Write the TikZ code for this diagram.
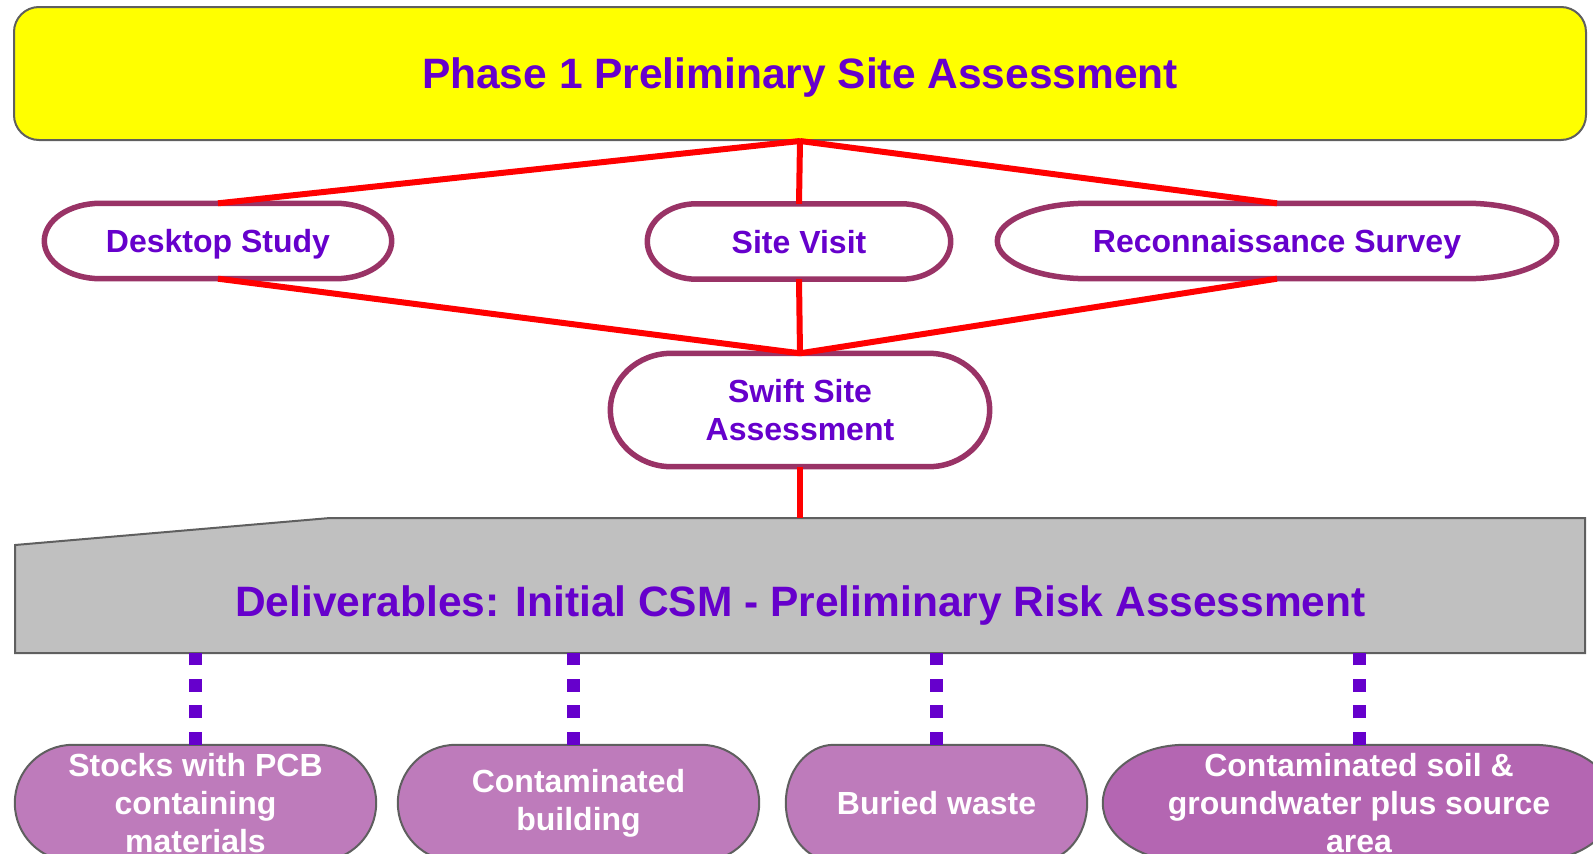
\documentclass[tikz,border=0pt]{standalone}
\usepackage{fontspec}
\setmainfont{Liberation Sans}
\usetikzlibrary{positioning}
\usetikzlibrary{backgrounds}
\usetikzlibrary{calc}
\definecolor{txtpurple}{HTML}{6600CC}
\definecolor{rimpurple}{HTML}{993366}
\definecolor{boxrim}{HTML}{5F5F5F}
\definecolor{phaseyellow}{HTML}{FFFF00}
\definecolor{delivgray}{HTML}{C0C0C0}
\definecolor{itemfill}{HTML}{BE7BBB}
\definecolor{itemdark}{HTML}{B466B2}
\tikzset{x=1pt,y=-1pt,
    phasebox/.style={
        rectangle, rounded corners=25pt,
        draw=boxrim, line width=2pt, fill=phaseyellow,
        minimum width=1572pt, minimum height=133pt, text depth=0pt,
        font=\fontsize{42.5}{50}\selectfont\bfseries, text=txtpurple},
    task/.style={
        inner sep=0pt, align=center,
        minimum height=75pt, text depth=0pt,
        font=\fontsize{32}{38}\selectfont\bfseries, text=txtpurple},
    item/.style={
        inner sep=0pt, align=center,
        minimum height=116pt,
        font=\fontsize{32}{38}\selectfont\bfseries, text=white},
    taskrim/.style={draw=rimpurple, line width=5.5pt, fill=white},
    itemrim/.style={draw=boxrim, line width=2pt, fill=#1},
    dotlink/.style={draw=txtpurple, line width=13pt,
        dash pattern=on 13pt off 13.5pt},
    every edge/.style={
        draw, red, line width=6pt}}
% pill outline round a node: node, x radius, look
\newcommand\pillpath[3]{%
    \path[#3] let \p1=(#1.north), \p2=(#1.south), \n1={(\y1-\y2)/2} in
        ([xshift=#2]#1.north west) -- ([xshift=-#2]#1.north east)
        arc[start angle=90, end angle=-90, x radius=#2, y radius=\n1]
        -- ([xshift=#2]#1.south west)
        arc[start angle=270, end angle=90, x radius=#2, y radius=\n1]
        -- cycle;}

\begin{document}
\begin{tikzpicture}
    \useasboundingbox (0,0) rectangle (1593,854);
    \clip (0,0) rectangle (1593,854);

    \node[phasebox] (phase) at (800,73.5) {Phase 1 Preliminary Site Assessment};

    \node[task,minimum width=347pt] (desk) at (218,241) {Desktop Study};
    \node[task,minimum width=303pt] (visit) at (799,241.5) {Site Visit};
    \node[task,minimum width=559pt] (recon) at (1277,241) {Reconnaissance Survey};
    \node[task,minimum width=379pt,minimum height=113pt] (swift) at (800,410) {Swift Site\\Assessment};

    % deliverables banner
    \draw[boxrim, line width=2pt, fill=delivgray]
        (15,545) -- (330,518) -- (1585,518) -- (1585,653) -- (15,653) -- cycle;
    \coordinate (dlvtop) at (800,518);
    \coordinate (dlvbase) at (800,653);
    \node[font=\fontsize{42.5}{50}\selectfont\bfseries, text=txtpurple, text depth=0pt]
        (dlv) at (800.5,601) {Deliverables: Initial CSM - Preliminary Risk Assessment};

    \node[item,minimum width=361pt] (stocks) at (195.5,803) {Stocks with PCB\\containing\\materials};
    \node[item,minimum width=361pt] (bldg) at (578.5,803) {Contaminated\\building};
    \node[item,minimum width=301pt] (waste) at (936.5,803) {Buried waste};
    \node[item,minimum width=512pt] (soil) at (1359,803) {Contaminated soil \&\\groundwater plus source\\area};

    \begin{scope}[on background layer]
        \pillpath{desk}{56pt}{taskrim}
        \pillpath{visit}{49pt}{taskrim}
        \pillpath{recon}{90pt}{taskrim}
        \pillpath{swift}{61pt}{taskrim}
        \pillpath{stocks}{58pt}{itemrim=itemfill}
        \pillpath{bldg}{58pt}{itemrim=itemfill}
        \pillpath{waste}{48pt}{itemrim=itemfill}
        \pillpath{soil}{82pt}{itemrim=itemdark}
    \end{scope}

    \draw (phase.south) edge (desk.north)
                        edge (visit.north)
                        edge (recon.north);
    \draw (swift.north) edge (desk.south)
                        edge (visit.south)
                        edge (recon.south);
    \draw (swift.south) edge (swift.south |- dlvtop);

    \foreach \itm in {stocks,waste,soil}
        \draw (\itm.north) edge[dotlink] (\itm.north |- dlvbase);
    \draw ([xshift=-5.5pt]bldg.north) edge[dotlink] ([xshift=-5.5pt]bldg.north |- dlvbase);
\end{tikzpicture}
\end{document}
